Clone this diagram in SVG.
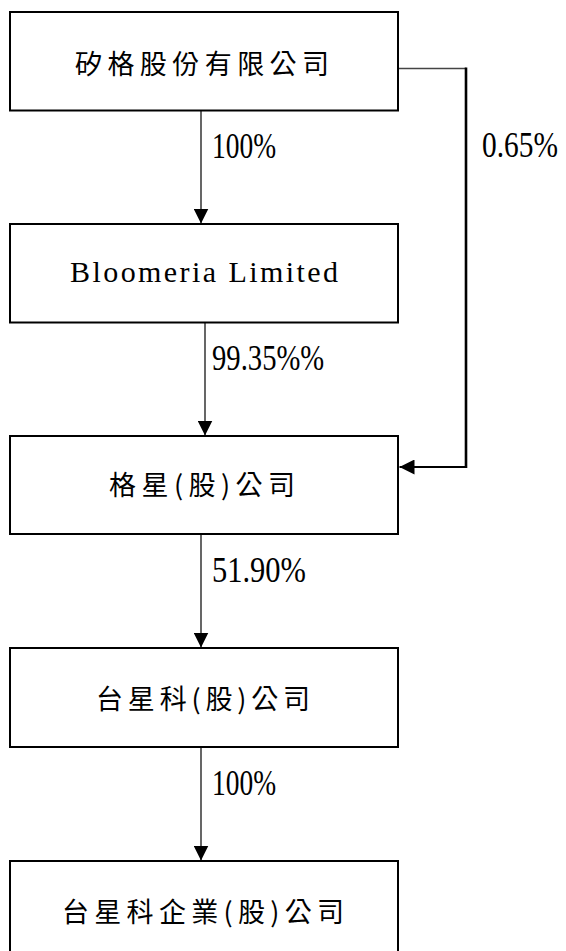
<svg xmlns="http://www.w3.org/2000/svg" width="566" height="951" viewBox="0 0 566 951">
  <style>
    .box { fill: #ffffff; stroke: #000000; stroke-width: 2; }
    .cjk { font-family: "Noto Sans CJK TC", "Noto Sans CJK SC", sans-serif; font-size: 27px; fill: #000000; }
    .lat { font-family: "Liberation Serif", serif; font-size: 30px; fill: #000000; }
    .pct { font-family: "Liberation Serif", serif; font-size: 30.5px; fill: #000000; }
    .arrow { stroke: #000000; stroke-width: 1.2; fill: none; }
  </style>
  <defs>
    <marker id="head" markerUnits="userSpaceOnUse" markerWidth="15" markerHeight="15" refX="15" refY="7.5" orient="auto" viewBox="0 0 15 15">
      <path d="M0,0 L15,7.5 L0,15 Z" fill="#000000"/>
    </marker>
  </defs>
  <rect width="566" height="951" fill="#ffffff"/>

  <g id="node-sigurd">
    <rect class="box" x="10" y="12" width="388" height="98.5"/>
    <text class="cjk" x="75" y="73.5" textLength="254" lengthAdjust="spacing">矽格股份有限公司</text>
  </g>
  <g id="node-bloomeria">
    <rect class="box" x="10" y="224" width="388" height="98.5"/>
    <text class="lat" x="70" y="282" textLength="268" lengthAdjust="spacing">Bloomeria Limited</text>
  </g>
  <g id="node-gexing">
    <rect class="box" x="10" y="436" width="388" height="98"/>
    <text class="cjk" x="109" y="495" textLength="186" lengthAdjust="spacing">格星(股)公司</text>
  </g>
  <g id="node-taixingke">
    <rect class="box" x="10" y="648" width="388" height="99"/>
    <text class="cjk" x="96" y="709" textLength="214" lengthAdjust="spacing">台星科(股)公司</text>
  </g>
  <g id="node-taixingke-enterprise">
    <rect class="box" x="10" y="861" width="388" height="100"/>
    <text class="cjk" x="62" y="921.5" textLength="282" lengthAdjust="spacing">台星科企業(股)公司</text>
  </g>

  <g id="connectors">
    <line class="arrow" x1="201" y1="111" x2="201" y2="223.5" marker-end="url(#head)"/>
    <line class="arrow" x1="205" y1="323" x2="205" y2="435.5" marker-end="url(#head)"/>
    <line class="arrow" x1="201" y1="535" x2="201" y2="647.5" marker-end="url(#head)"/>
    <line class="arrow" x1="201" y1="747.5" x2="201" y2="860.5" marker-end="url(#head)"/>
    <line x1="399" y1="68.5" x2="466" y2="68.5" stroke="#444444" stroke-width="1.3"/>
    <line x1="466" y1="67.5" x2="466" y2="468" stroke="#000000" stroke-width="2.6"/>
    <line x1="466" y1="467" x2="399.5" y2="467" stroke="#000000" stroke-width="2" marker-end="url(#head)"/>
    <text class="pct" transform="translate(212,157.5) scale(0.9,1.15)" x="0" y="0">100%</text>
    <text class="pct" transform="translate(482,157) scale(0.965,1.15)" x="0" y="0">0.65%</text>
    <text class="pct" transform="translate(212,370) scale(0.94,1.15)" x="0" y="0">99.35%%</text>
    <text class="pct" transform="translate(212,581.5) scale(1.0,1.15)" x="0" y="0">51.90%</text>
    <text class="pct" transform="translate(212,794.5) scale(0.9,1.15)" x="0" y="0">100%</text>
  </g>
</svg>
